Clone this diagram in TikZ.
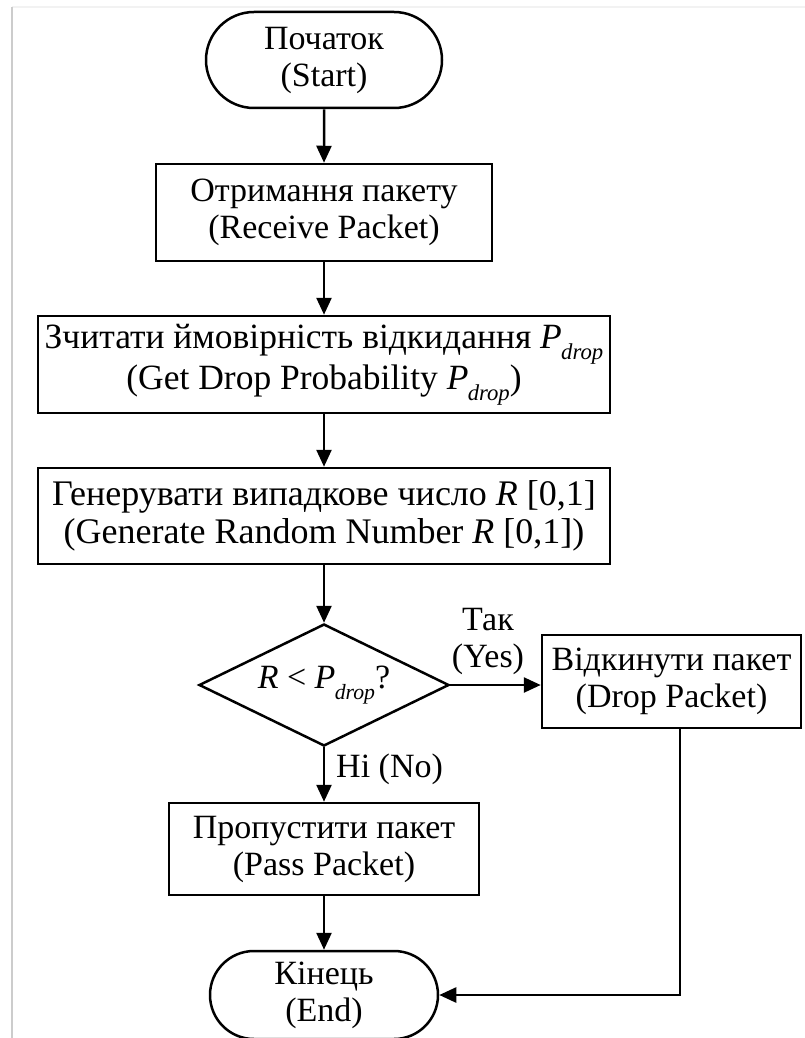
\documentclass[tikz,border=0pt]{standalone}
\usepackage{fontspec}
\setmainfont{Liberation Serif}
\usetikzlibrary{arrows.meta,shapes.geometric,shapes.misc,calc}
% italic P with a lowered italic "drop" index, sized from the current font
\makeatletter
\newcommand{\pdrop}{\textit{P}\kern-0.02em\raisebox{-0.3em}{%
  \fontsize{\fpeval{0.64*\f@size}}{\fpeval{0.64*\f@size}}\selectfont\itshape drop}}
\makeatother

\begin{document}
\begin{tikzpicture}[x=1pt,y=-1pt,
  every node/.style={font=\fontsize{34}{37}\selectfont, align=center, inner sep=0pt},
  wide/.style={font=\fontsize{#1}{38}\selectfont},
  term/.style={draw, line width=2.5pt, rounded rectangle},
  proc/.style={draw, line width=2.5pt, rectangle},
  dec/.style={draw, line width=2.5pt, diamond, aspect=2.05,
    minimum width=250pt, minimum height=122pt},
  flow/.style={line width=2.5pt, -{Triangle[length=17pt,width=15pt]}},
  frameline/.style={line width=2pt}]

  % canvas
  \fill[white] (0,0) rectangle (805,1038);
  \useasboundingbox (0,0) rectangle (805,1038);
  \draw[frameline, gray!10] (12,7) -- (805,7);
  \draw[frameline, gray!40] (12,7) -- (12,1038);

  % main column
  \node[term, minimum width=236pt, minimum height=96pt] (start) at (324,60)
    {Початок\\(Start)};
  \node[proc, minimum width=336pt, minimum height=97pt] (recv) at (324,212.5)
    {Отримання пакету\\(Receive Packet)};
  \node[proc, wide=35.5, minimum width=572pt, minimum height=97pt] (get) at (324,364.5)
    {Зчитати ймовірність відкидання \pdrop\\(Get Drop Probability \pdrop)};
  \node[proc, wide=36, minimum width=572pt, minimum height=96pt] (gen) at (324,516)
    {Генерувати випадкове число \textit{R} [0,1]\\(Generate Random Number \textit{R} [0,1])};
  \node[dec] (test) at (324,685) {\textit{R} < \pdrop?};
  \node[proc, minimum width=310pt, minimum height=92pt] (pass) at (324,849)
    {Пропустити пакет\\(Pass Packet)};
  \node[term, minimum width=228pt, minimum height=88pt] (end) at (324,995)
    {Кінець\\(End)};

  % side branch
  \node[proc, minimum width=259pt, minimum height=93pt] (drop) at (671.5,681.5)
    {Відкинути пакет\\(Drop Packet)};
  \coordinate (corner) at (680,995);

  % branch labels
  \node (yes) at (488,641) {Так\\(Yes)};
  \node[anchor=west] (no) at (336,769) {Ні (No)};

  % connectors
  \draw[flow] (start) -- (recv);
  \draw[flow] (recv) -- (get);
  \draw[flow] (get) -- (gen);
  \draw[flow] (gen) -- (test);
  \draw[flow] (test) -- (pass);
  \draw[flow] (pass) -- (end);
  \draw[flow] (test.east) -- (test.east -| drop.west);
  \draw[flow] (corner |- drop.south) -- (corner) -- (end.east |- corner);
\end{tikzpicture}
\end{document}
